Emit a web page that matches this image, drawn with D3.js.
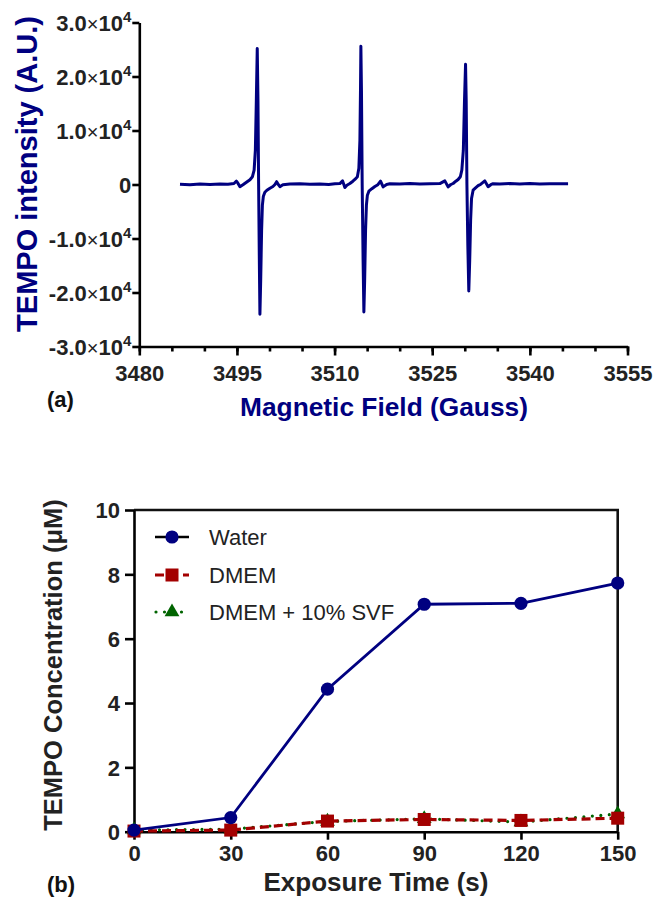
<!DOCTYPE html>
<html><head><meta charset="utf-8">
<script src="https://cdn.jsdelivr.net/npm/d3@7"></script>
<style>
body{margin:0;background:#fff}
svg{display:block}
text{font-family:"Liberation Sans",Arial,Helvetica,sans-serif}
</style>
</head><body><svg id="c" width="654" height="913"></svg>
<script>
// ---------- DATA (a): EPR spectrum ----------
const fieldG = [
3486.25,3487.78,3489.32,3490.86,3492.39,3493.62,3494.54,3494.92,3495.15,3495.46,3495.92,3496.46,3497.00,3497.38,3497.64,3497.83,3497.98,3498.12,3498.23,3498.33,3498.44,3498.53,3498.65,3498.79,3498.91,3499.06,3499.29,3499.60,3500.07,3500.53,3500.84,3501.10,3501.37,3501.60,3502.06,3503.14,
3504.67,3506.20,3507.74,3509.10,3510.05,3510.81,3511.23,3511.58,3511.89,3512.35,3512.81,3513.12,3513.50,3513.73,3513.89,3513.98,3514.04,3514.13,3514.24,3514.38,3514.50,3514.62,3514.76,3514.89,3515.04,3515.27,3515.73,3516.19,3516.65,3517.06,3517.46,3517.99,3518.49,3520.03,3521.56,3523.10,3524.63,3526.17,
3526.94,3527.44,3527.86,3528.21,3528.63,3528.98,3529.32,3529.55,3529.78,3529.96,3530.12,3530.22,3530.33,3530.47,3530.62,3530.76,3530.90,3531.04,3531.28,3531.70,3532.05,3532.47,3533.08,3533.59,3534.00,3534.35,3535.38,3536.92,3538.45,3539.99,3541.52,3543.06,3544.59,3545.87
];
const intensityAU = [
55,-40,75,-20,90,40,185,610,240,-410,-40,430,890,1440,2650,6350,15610,25190,15610,0,-14020,-24020,-17720,-8460,-3830,-2160,-1430,-1060,-690,-370,0,520,-40,-410,-55,75,
130,40,75,20,150,165,670,-560,-130,185,610,930,1440,3020,8200,17460,25610,17460,55,-14020,-23590,-17720,-8520,-3830,-1980,-1240,-780,-370,-40,610,-440,0,130,75,165,90,150,165,
670,-440,0,185,610,930,1440,2650,6350,15610,22280,15610,55,-11240,-19700,-14020,-6610,-2590,-1060,-590,-220,55,670,-410,-40,150,90,165,110,165,90,150,130,150
];
const fieldTicks = [3480,3495,3510,3525,3540,3555];
const intensityTicks = [-30000,-20000,-10000,0,10000,20000,30000];

// ---------- DATA (b): concentration vs exposure ----------
const times = [0,30,60,90,120,150];
const water = [0.05,0.44,4.43,7.07,7.10,7.73];
const dmem  = [0.02,0.05,0.33,0.38,0.35,0.42];
const svf   = [0.05,0.08,0.32,0.40,0.30,0.55];
const seriesNames = ["Water","DMEM","DMEM + 10% SVF"];
const timeTicks = [0,30,60,90,120,150];
const concTicks = [0,2,4,6,8,10];

const svg = d3.select("#c");
const navy = "#000080", red = "#a30000", green = "#006400";
const AX = 2.6;

// ================= Panel (a) =================
const xA = d3.scaleLinear().domain([3480,3555]).range([139.3,627.5]);
const yA = d3.scaleLinear().domain([-30000,30000]).range([346.5,22.5]);
const gA = svg.append("g");

// minor x ticks
gA.append("g").attr("transform",`translate(0,${yA(-30000)})`)
  .call(d3.axisBottom(xA).tickValues(d3.range(3480,3556,5)).tickSize(5).tickSizeOuter(0).tickFormat(""))
  .call(g=>{g.select(".domain").remove(); g.selectAll("line").attr("stroke","#000").attr("stroke-width",AX);});
// major x axis
const axA = gA.append("g").attr("transform",`translate(0,${yA(-30000)})`)
  .call(d3.axisBottom(xA).tickValues(fieldTicks).tickSize(9).tickSizeOuter(0).tickFormat(d3.format("d")));
axA.select(".domain").attr("stroke","#000").attr("stroke-width",AX);
axA.selectAll("line").attr("stroke","#000").attr("stroke-width",AX);
axA.selectAll("text").attr("y",19).attr("dy","0.72em")
  .attr("font-size",22).attr("font-weight","bold").attr("fill","#222")
  .attr("font-family","'Liberation Sans',Arial,sans-serif");

// y axis
const ayA = gA.append("g").attr("transform",`translate(${xA(3480)},0)`)
  .call(d3.axisLeft(yA).tickValues(intensityTicks).tickSize(7).tickSizeOuter(0).tickFormat(""));
ayA.select(".domain").attr("stroke","#000").attr("stroke-width",AX);
ayA.selectAll("line").attr("stroke","#000").attr("stroke-width",AX);
ayA.selectAll(".tick").each(function(d){
  const t = d3.select(this).append("text").attr("x",-8).attr("dy","0.36em")
    .attr("text-anchor","end").attr("fill","#222").attr("font-weight","bold").attr("font-size",22);
  if(d===0){ t.text("0"); return; }
  t.append("tspan").text((d/1e4).toFixed(1));
  t.append("tspan").attr("font-weight","normal").attr("font-size",20).text("\u00d7");
  t.append("tspan").text("10");
  t.append("tspan").attr("font-size",15).attr("dy","-0.6em").text("4");
});

// spectrum
const specPts = fieldG.map((f,i)=>[f,intensityAU[i]]);
gA.append("path").datum(specPts)
  .attr("fill","none").attr("stroke",navy).attr("stroke-width",3).attr("stroke-linejoin","round")
  .attr("d",d3.line().x(d=>xA(d[0])).y(d=>yA(d[1])));

// titles
gA.append("text").attr("x",384).attr("y",416).attr("text-anchor","middle")
  .attr("font-size",26.3).attr("font-weight","bold").attr("fill",navy).text("Magnetic Field (Gauss)");
gA.append("text").attr("transform","translate(37,174) rotate(-90)").attr("text-anchor","middle")
  .attr("font-size",29).attr("font-weight","bold").attr("fill",navy).text("TEMPO intensity (A.U.)");
gA.append("text").attr("x",47).attr("y",407).attr("font-size",22).attr("font-weight","bold")
  .attr("fill","#111").text("(a)");

// ================= Panel (b) =================
const xB = d3.scaleLinear().domain([0,150]).range([134,617.7]);
const yB = d3.scaleLinear().domain([0,10]).range([831.7,510]);
const gB = svg.append("g");

// frame (top & right)
gB.append("path").attr("d",`M${xB(0)},${yB(10)}H${xB(150)}V${yB(0)}`)
  .attr("fill","none").attr("stroke","#111").attr("stroke-width",AX);

const axB = gB.append("g").attr("transform",`translate(0,${yB(0)})`)
  .call(d3.axisBottom(xB).tickValues(timeTicks).tickSize(8).tickSizeOuter(0));
axB.select(".domain").attr("stroke","#000").attr("stroke-width",AX);
axB.selectAll("line").attr("stroke","#000").attr("stroke-width",AX);
axB.selectAll("text").attr("y",13).attr("dy","0.72em")
  .attr("font-size",22).attr("font-weight","bold").attr("fill","#222")
  .attr("font-family","'Liberation Sans',Arial,sans-serif");

const ayB = gB.append("g").attr("transform",`translate(${xB(0)},0)`)
  .call(d3.axisLeft(yB).tickValues(concTicks).tickSize(9).tickSizeOuter(0));
ayB.select(".domain").attr("stroke","#000").attr("stroke-width",AX);
ayB.selectAll("line").attr("stroke","#000").attr("stroke-width",AX);
ayB.selectAll("text").attr("x",-14).attr("dy","0.36em")
  .attr("font-size",22).attr("font-weight","bold").attr("fill","#222")
  .attr("font-family","'Liberation Sans',Arial,sans-serif");

const lineB = d3.line().x(d=>xB(d[0])).y(d=>yB(d[1]));
const tri = d3.symbol().type(d3.symbolTriangle).size(95);

// SVF (green dotted)
const svfPts = times.map((t,i)=>[t,svf[i]]);
gB.append("path").datum(svfPts).attr("fill","none").attr("stroke",green)
  .attr("stroke-width",3.2).attr("stroke-linecap","round").attr("stroke-dasharray","0,8.5")
  .attr("d",lineB);
gB.selectAll(".tri").data(svfPts).join("path").attr("fill",green)
  .attr("transform",d=>`translate(${xB(d[0])},${yB(d[1])})`).attr("d",tri);

// DMEM (red dashed)
const dmPts = times.map((t,i)=>[t,dmem[i]]);
gB.append("path").datum(dmPts).attr("fill","none").attr("stroke",red)
  .attr("stroke-width",3.2).attr("stroke-dasharray","9,5").attr("d",lineB);
gB.selectAll(".sq").data(dmPts).join("rect").attr("fill",red)
  .attr("x",d=>xB(d[0])-6.5).attr("y",d=>yB(d[1])-6.5).attr("width",13).attr("height",13);

// Water (navy solid)
const wPts = times.map((t,i)=>[t,water[i]]);
gB.append("path").datum(wPts).attr("fill","none").attr("stroke",navy)
  .attr("stroke-width",2.8).attr("d",lineB);
gB.selectAll(".ci").data(wPts).join("circle").attr("fill",navy)
  .attr("cx",d=>xB(d[0])).attr("cy",d=>yB(d[1])).attr("r",6.6);

// legend
const legY = [537,575,612];
const lg = gB.append("g");
lg.append("line").attr("x1",155).attr("x2",189).attr("y1",legY[0]).attr("y2",legY[0])
  .attr("stroke","#000").attr("stroke-width",2.6);
lg.append("circle").attr("cx",172).attr("cy",legY[0]).attr("r",6.6).attr("fill",navy);
lg.append("line").attr("x1",155).attr("x2",189).attr("y1",legY[1]).attr("y2",legY[1])
  .attr("stroke",red).attr("stroke-width",3.2).attr("stroke-dasharray","9,5");
lg.append("rect").attr("x",165.5).attr("y",legY[1]-6.5).attr("width",13).attr("height",13).attr("fill",red);
lg.append("line").attr("x1",156).attr("x2",189).attr("y1",legY[2]).attr("y2",legY[2])
  .attr("stroke",green).attr("stroke-width",3.2).attr("stroke-linecap","round").attr("stroke-dasharray","0,8.5");
lg.append("path").attr("transform",`translate(172,${legY[2]})`).attr("d",tri).attr("fill",green);
lg.selectAll(".lt").data(seriesNames).join("text").attr("x",209).attr("y",(d,i)=>legY[i])
  .attr("dy","0.36em").attr("font-size",22).attr("fill","#222").text(d=>d);

// titles
gB.append("text").attr("x",376).attr("y",891).attr("text-anchor","middle")
  .attr("font-size",26).attr("font-weight","bold").attr("fill","#222").text("Exposure Time (s)");
gB.append("text").attr("transform","translate(62,665) rotate(-90)").attr("text-anchor","middle")
  .attr("font-size",25.5).attr("font-weight","bold").attr("fill","#222")
  .text("TEMPO Concentration (\u03bcM)");
gB.append("text").attr("x",47).attr("y",892).attr("font-size",22).attr("font-weight","bold")
  .attr("fill","#111").text("(b)");
</script>
</body></html>
